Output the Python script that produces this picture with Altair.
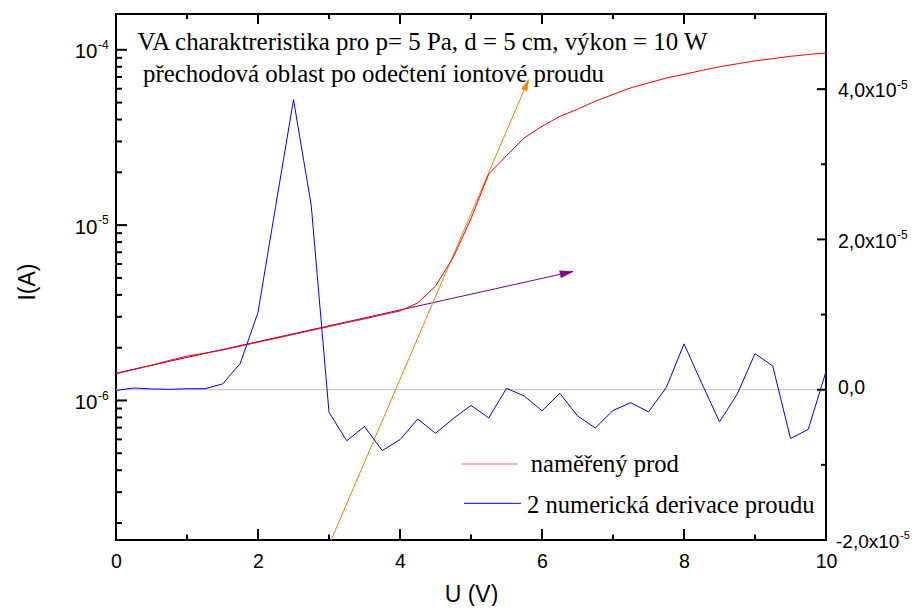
import altair as alt
import pandas as pd

# ---------------- data ----------------
voltage = [0.0, 0.25, 0.5, 0.75, 1.0, 1.25, 1.5, 1.75, 2.0, 2.25, 2.5, 2.75,
           3.0, 3.25, 3.5, 3.75, 4.0, 4.25, 4.5, 4.75, 5.0, 5.25, 5.5, 5.75,
           6.0, 6.25, 6.5, 6.75, 7.0, 7.25, 7.5, 7.75, 8.0, 8.25, 8.5, 8.75,
           9.0, 9.25, 9.5, 9.75, 10.0]
# measured current (A), left log axis
current = [1.42e-6, 1.50e-6, 1.59e-6, 1.69e-6, 1.79e-6, 1.86e-6, 1.94e-6, 2.04e-6,
           2.15e-6, 2.26e-6, 2.38e-6, 2.51e-6, 2.64e-6, 2.78e-6, 2.92e-6, 3.08e-6,
           3.24e-6, 3.60e-6, 4.49e-6, 6.56e-6, 1.09e-5, 1.96e-5, 2.49e-5, 3.15e-5,
           3.66e-5, 4.17e-5, 4.58e-5, 5.09e-5, 5.56e-5, 6.07e-5, 6.47e-5, 6.90e-5,
           7.24e-5, 7.63e-5, 8.00e-5, 8.32e-5, 8.65e-5, 8.90e-5, 9.18e-5, 9.40e-5,
           9.60e-5]
# second numerical derivative, right linear axis
derivative = [-0.10e-6, 0.23e-6, 0.10e-6, 0.05e-6, 0.13e-6, 0.13e-6, 0.76e-6, 3.5e-6,
              10.3e-6, 24.5e-6, 38.6e-6, 24.5e-6, -3.0e-6, -6.8e-6, -4.9e-6, -8.1e-6,
              -6.65e-6, -3.9e-6, -5.8e-6, -3.84e-6, -2.09e-6, -3.75e-6, 0.19e-6, -0.84e-6,
              -2.8e-6, -0.48e-6, -3.48e-6, -5.1e-6, -2.76e-6, -1.73e-6, -2.95e-6, 0.28e-6,
              6.1e-6, 0.85e-6, -4.28e-6, -0.57e-6, 4.8e-6, 3.15e-6, -6.5e-6, -5.27e-6,
              2.43e-6]
# fitted lines (arrows)
purple_u = [0.0, 6.437]
purple_i = [1.43e-6, 5.44e-6]
orange_u = [3.03, 5.81]
orange_i = [1.6e-7, 6.75e-5]

# axis ticks and labels
x_major = [0, 2, 4, 6, 8, 10]
x_minor = [1, 3, 5, 7, 9]
left_major = [1e-6, 1e-5, 1e-4]
left_exp = ["-6", "-5", "-4"]
left_minor = [m * 10.0 ** e for e in (-7, -6, -5) for m in range(2, 10)]
right_major = [-2e-5, 2e-5, 4e-5]
right_text = ["-2,0x10", "2,0x10", "4,0x10"]
right_minor = [-1e-5, 1e-5, 3e-5]

title1 = "VA charaktreristika pro p= 5 Pa, d = 5 cm, výkon = 10 W"
title2 = "přechodová oblast po odečtení iontové proudu"
legend1 = "naměřený prod"
legend2 = "2 numerická derivace proudu"

# ---------------- styling ----------------
SANS = "Liberation Sans"
SERIF = "Liberation Serif"
W, H = 710, 526
RED, BLUE, PURPLE, ORANGE = "#ff0000", "#0000ff", "#800080", "#ff8000"
ARROW = "M0,0L0.55,2L-0.55,2Z"

xs = alt.Scale(domain=[0, 10], nice=False, zero=False)
yl = alt.Scale(type="log", domain=[1.6e-7, 1.6e-4], nice=False)
yr = alt.Scale(domain=[-2e-5, 5e-5], nice=False, zero=False)

x_axis = alt.Axis(values=x_major, format="d", labelFont=SANS, labelFontSize=19.5,
                  labelColor="black", labelPadding=12, labelFlush=False, ticks=False,
                  domain=False, grid=False, titleFont=SANS, titleFontSize=23,
                  titleFontWeight="normal", titleColor="black",
                  titleBaseline="alphabetic", titleY=61)


def xq(f):
    return alt.X(f"{f}:Q", scale=xs, axis=x_axis, title="U (V)")


def yL(f):
    return alt.Y(f"{f}:Q", scale=yl, axis=None)


def yR(f):
    return alt.Y(f"{f}:Q", scale=yr, axis=None)


df = pd.DataFrame({"U": voltage, "I": current, "D": derivative})
df_p = pd.DataFrame({"U": purple_u, "I": purple_i})
df_o = pd.DataFrame({"U": orange_u, "I": orange_i})
one = pd.DataFrame({"a": [0]})


def text(txt, x, y, size, font, align="left", angle=0):
    return alt.Chart(one).mark_text(text=txt, font=font, fontSize=size, align=align,
                                    baseline="alphabetic", angle=angle,
                                    color="black").encode(x=alt.value(x), y=alt.value(y))


# lines
purple = alt.Chart(df_p).mark_line(color=PURPLE, strokeWidth=1).encode(x=xq("U"), y=yL("I"))
purple_head = alt.Chart(df_p.iloc[[-1]]).mark_point(
    shape=ARROW, filled=True, fill=PURPLE, stroke=PURPLE, strokeWidth=0.5, opacity=1,
    size=169, angle=77.4).encode(x=xq("U"), y=yL("I"))
orange = alt.Chart(df_o).mark_line(color=ORANGE, strokeWidth=1).encode(x=xq("U"), y=yL("I"))
orange_head = alt.Chart(df_o.iloc[[-1]]).mark_point(
    shape=ARROW, filled=True, fill=ORANGE, stroke=ORANGE, strokeWidth=0.5, opacity=1,
    size=121, angle=23.2).encode(x=xq("U"), y=yL("I"))
red = alt.Chart(df).mark_line(color=RED, strokeWidth=1).encode(x=xq("U"), y=yL("I"))
blue = alt.Chart(df).mark_line(color=BLUE, strokeWidth=1).encode(x=xq("U"), y=yR("D"))
zero = alt.Chart(pd.DataFrame({"v": [0.0]})).mark_rule(color="#c0c0c0", strokeWidth=1).encode(y=yR("v"))

# inward ticks
dfx_maj = pd.DataFrame({"U": x_major})
dfx_min = pd.DataFrame({"U": x_minor})
bot_maj = alt.Chart(dfx_maj).mark_rule(color="black", strokeWidth=2).encode(
    x=xq("U"), y=alt.value(H), y2=alt.value(H - 11))
bot_min = alt.Chart(dfx_min).mark_rule(color="black", strokeWidth=2).encode(
    x=xq("U"), y=alt.value(H), y2=alt.value(H - 5.5))
top_maj = alt.Chart(dfx_maj).mark_rule(color="black", strokeWidth=2).encode(
    x=xq("U"), y=alt.value(0), y2=alt.value(10))
top_min = alt.Chart(dfx_min).mark_rule(color="black", strokeWidth=2).encode(
    x=xq("U"), y=alt.value(0), y2=alt.value(5))

dfl = pd.DataFrame({"v": left_major, "e": left_exp})
left_maj = alt.Chart(dfl).mark_rule(color="black", strokeWidth=2).encode(
    y=yL("v"), x=alt.value(0), x2=alt.value(11))
left_min = alt.Chart(pd.DataFrame({"v": left_minor})).mark_rule(color="black", strokeWidth=2).encode(
    y=yL("v"), x=alt.value(0), x2=alt.value(6))
left_lab = alt.Chart(dfl).mark_text(text="10", font=SANS, fontSize=20.5, align="right",
                                    baseline="alphabetic", dy=8.5, color="black").encode(
    y=yL("v"), x=alt.value(-18.5))
left_sup = alt.Chart(dfl).mark_text(font=SANS, fontSize=12, align="left",
                                    baseline="alphabetic", dy=-0.7, color="black").encode(
    y=yL("v"), x=alt.value(-18), text="e:N")

dfr = pd.DataFrame({"v": right_major, "t": right_text})
right_maj = alt.Chart(pd.DataFrame({"v": right_major + [0.0]})).mark_rule(
    color="black", strokeWidth=2).encode(y=yR("v"), x=alt.value(W), x2=alt.value(W - 9))
right_min = alt.Chart(pd.DataFrame({"v": right_minor})).mark_rule(
    color="black", strokeWidth=2).encode(y=yR("v"), x=alt.value(W), x2=alt.value(W - 5))
right_lab_pos = alt.Chart(dfr).transform_filter("datum.v > 0").mark_text(
    font=SANS, fontSize=19.5, align="left", baseline="alphabetic", dy=8.3,
    color="black").encode(y=yR("v"), x=alt.value(722), text="t:N")
right_lab_neg = alt.Chart(dfr).transform_filter("datum.v < 0").mark_text(
    font=SANS, fontSize=19, align="left", baseline="alphabetic", dy=8.3,
    color="black").encode(y=yR("v"), x=alt.value(720), text="t:N")
right_sup_pos = alt.Chart(dfr).transform_filter("datum.v > 0").mark_text(
    text="-5", font=SANS, fontSize=12, align="left", baseline="alphabetic", dy=0,
    color="black").encode(y=yR("v"), x=alt.value(781))
right_sup_neg = alt.Chart(dfr).transform_filter("datum.v < 0").mark_text(
    text="-5", font=SANS, fontSize=11, align="left", baseline="alphabetic", dy=-1,
    color="black").encode(y=yR("v"), x=alt.value(784))
right_zero = alt.Chart(pd.DataFrame({"v": [0.0]})).mark_text(
    text="0,0", font=SANS, fontSize=19.5, align="left", baseline="alphabetic", dy=4.3,
    color="black").encode(y=yR("v"), x=alt.value(722))

# texts and legend
t1 = text(title1, 21.5, 36, 24.9, SERIF)
t2 = text(title2, 27, 68, 24.9, SERIF)
ytitle = text("I(A)", -81, 268, 23, SANS, align="center", angle=270)
leg_r = alt.Chart(one).mark_rule(color="#ff6a6a", strokeWidth=1.2).encode(
    x=alt.value(345.7), x2=alt.value(402), y=alt.value(450))
leg_b = alt.Chart(one).mark_rule(color=BLUE, strokeWidth=1).encode(
    x=alt.value(348), x2=alt.value(405), y=alt.value(489.3))
leg_t1 = text(legend1, 414.7, 458.3, 24.6, SERIF)
leg_t2 = text(legend2, 411, 499, 24.6, SERIF)

left_group = alt.layer(purple, purple_head, orange, orange_head, red,
                       bot_maj, bot_min, top_maj, top_min, left_maj, left_min,
                       left_lab, left_sup, t1, t2, ytitle, leg_r, leg_b, leg_t1, leg_t2)
right_group = alt.layer(blue, right_maj, right_min, right_lab_pos, right_lab_neg,
                        right_sup_pos, right_sup_neg, right_zero)

chart = alt.layer(zero, left_group, right_group).resolve_scale(
    y="independent"
).properties(
    width=W, height=H,
    autosize=alt.AutoSizeParams(type="none"),
    padding={"left": 108, "top": 6, "right": 86, "bottom": 66},
    background="white",
).configure_view(stroke="black", strokeWidth=2)

chart.save("out.html", embed_options={"renderer": "svg", "actions": False})
